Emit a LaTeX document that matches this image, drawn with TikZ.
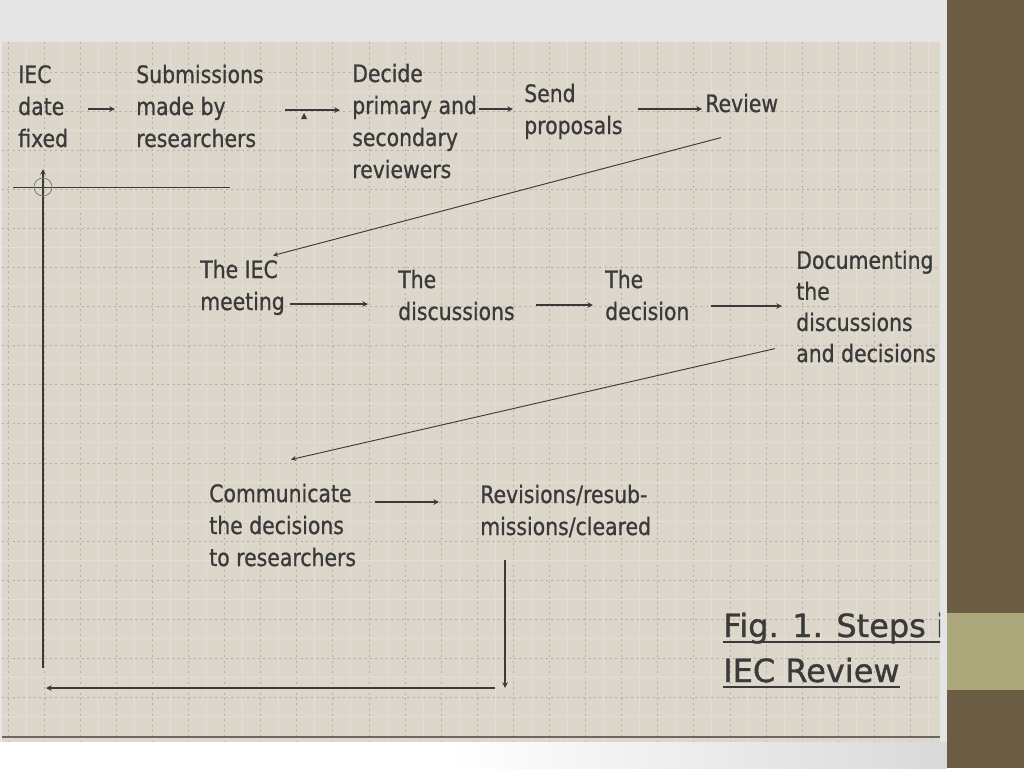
\documentclass[tikz,border=0pt]{standalone}
\usepackage{fontspec}
\setmainfont{DejaVu Sans}[FakeStretch=0.85, FakeBold=0.8]
\newfontfamily\capfont{DejaVu Sans}[FakeBold=1]
\usetikzlibrary{calc,arrows}
\definecolor{paper}{HTML}{DCD7CA}
\definecolor{band}{HTML}{6A5D44}
\definecolor{khaki}{HTML}{ADA77C}
\definecolor{ink}{HTML}{3A3A3A}
\definecolor{gridline}{HTML}{B3AEA3}

\begin{document}
\begin{tikzpicture}[x=0.75pt, y=-0.75pt, >=stealth,
          txt/.style={anchor=base west, align=left, inner sep=0pt, text=ink,
            font=\fontsize{18}{24}\selectfont},
          captxt/.style={anchor=base west, inner sep=0pt, text=ink,
            font=\capfont\fontsize{24}{28}\selectfont},
          flow/.style={->, draw=ink, line width=0.9pt},
          back/.style={draw=ink, line width=0.9pt},
          dots/.style={draw=gridline, line width=0.7pt, dash pattern=on 1.5pt off 2.5pt},
          faint/.style={draw=white!18!paper, line width=0.7pt}]

          % page and side band
          \useasboundingbox (0,0) rectangle (1024,768);
          \fill[gray!20] (0,0) rectangle (1024,768);
          \fill[paper] (2,42) rectangle (940,742);
          \fill[white] (0,742) rectangle (450,768);
          \shade[left color=white, right color=gray!30] (450,742) rectangle (947,768);
          \fill[band] (947,0) rectangle (1024,768);
          \fill[khaki] (947,613) rectangle (1024,690);

          % squared paper
          \begin{scope}
            \clip (2,42) rectangle (940,742);
            \foreach \i in {0,...,25} {
              \draw[faint] (26+36.1*\i,42) -- (26+36.1*\i,742);
              \draw[dots] (8+36.1*\i,42) -- (8+36.1*\i,742);
            }
            \foreach \j in {0,...,17} {
              \draw[faint] (2,91+39.1*\j) -- (940,91+39.1*\j);
              \draw[dots] (2,72+39.1*\j) -- (940,72+39.1*\j);
            }
            \draw[gridline!60!black, line width=1.2pt] (2,737) -- (940,737);
          \end{scope}

          % steps (anchored at the baseline of the last line)
          \node[txt] (date) at (18,147) {IEC\\date\\fixed};
          \node[txt] (subm) at (136,147) {Submissions\\made by\\researchers};
          \node[txt] (decide) at (352,178) {Decide\\primary and\\secondary\\reviewers};
          \node[txt] (send) at (524,134) {Send\\proposals};
          \node[txt] (review) at (705,112) {Review};
          \node[txt] (meet) at (200,310) {The IEC\\meeting};
          \node[txt] (disc) at (398,320) {The\\discussions};
          \node[txt] (decis) at (605,320) {The\\decision};
          \node[txt, font=\fontsize{18}{23.3}\selectfont] (docu) at (796,362)
            {Documenting\\the\\discussions\\and decisions};
          \node[txt] (comm) at (209,566) {Communicate\\the decisions\\to researchers};
          \node[txt] (revis) at (480,535) {Revisions/resub-\\missions/cleared};

          \draw[flow] ($(date.east|-0,109)+(20,0)$) -- ($(subm.west|-0,109)+(-21,0)$);
          \draw[flow] ($(subm.east|-0,110)+(21,0)$) -- ($(decide.west|-0,110)+(-12,0)$);
          \fill[ink] (301,119) -- (307,119) -- (304,113) -- cycle;
          \draw[flow] ($(decide.east|-0,109)+(2,0)$) -- ($(send.west|-0,109)+(-11,0)$);
          \draw[flow] ($(send.east|-0,109)+(15,0)$) -- ($(review.west|-0,109)+(-3,0)$);
          \draw[flow, line width=0.7pt] ($(review.south west)+(16,25)$) -- ($(meet.north west)+(73,-4)$);

          \draw[flow] ($(meet.east|-0,304)+(5,0)$) -- ($(disc.west|-0,304)+(-30,0)$);
          \draw[flow] ($(disc.east|-0,305)+(21,0)$) -- ($(decis.west|-0,305)+(-12,0)$);
          \draw[flow] ($(decis.east|-0,306)+(21,0)$) -- ($(docu.west|-0,306)+(-14,0)$);
          \draw[flow, line width=0.7pt] ($(docu.south west)+(-21,-14)$) -- ($(comm.north west)+(82,-24)$);

          \draw[flow] ($(comm.east|-0,502)+(19,0)$) -- ($(revis.west|-0,502)+(-41,0)$);

          % back to the start
          \coordinate (dn) at (505,688);
          \coordinate (btm) at (495,688);
          \coordinate (lft) at (46,688);
          \coordinate (foot) at (43,668);
          \coordinate (top) at (43,169);
          \coordinate (barL) at (13,187);
          \coordinate (barR) at (230,187);
          \draw[flow] ($(revis.south west)+(25,22)$) -- (dn);
          \draw[flow] (btm) -- (lft);
          \draw[flow] (foot) -- (top);
          \draw[back, line width=0.7pt] (barL) -- (barR);
          \draw[gray, line width=0.6pt] (43,187) circle (9);

          % caption
          \begin{scope}
            \clip (2,42) rectangle (940,742);
            \node[captxt] (fig) at (723,637) {Fig. 1. Steps i};
            \node[captxt] (iecrev) at (723,682) {IEC Review};
            \draw[ink, line width=2pt] ($(fig.base west)+(0,5)$) -- ($(fig.base east)+(20,5)$);
            \draw[ink, line width=2pt] ($(iecrev.base west)+(0,5)$) -- ($(iecrev.base east)+(0,5)$);
          \end{scope}
        \end{tikzpicture}
\end{document}
